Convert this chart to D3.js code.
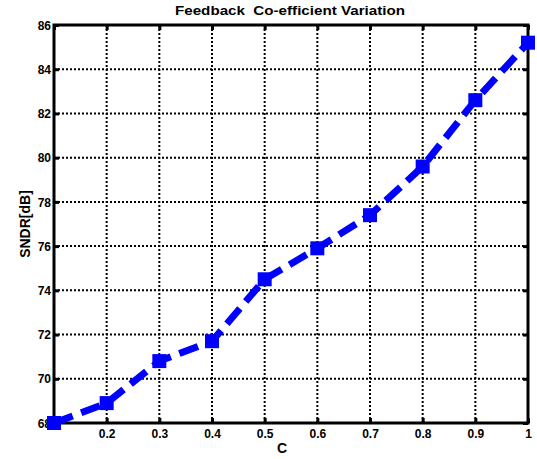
<!DOCTYPE html>
<html>
<head>
<meta charset="utf-8">
<script src="https://cdn.jsdelivr.net/npm/d3@7"></script>
<style>
  body { margin: 0; background: #fff; }
  text { font-family: "Liberation Sans", Arial, sans-serif; font-weight: bold; }
</style>
</head>
<body>
<script>
const cValues = [0.1, 0.2, 0.3, 0.4, 0.5, 0.6, 0.7, 0.8, 0.9, 1.0];
const sndr = [68.0, 68.9, 70.8, 71.7, 74.5, 75.9, 77.4, 79.6, 82.6, 85.2];
const xTicks = [0.1, 0.2, 0.3, 0.4, 0.5, 0.6, 0.7, 0.8, 0.9, 1];
const yTicks = [68, 70, 72, 74, 76, 78, 80, 82, 84, 86];

const width = 537, height = 459;
const margin = {top: 25, right: 9, bottom: 36, left: 54};
const w = width - margin.left - margin.right;
const h = height - margin.top - margin.bottom;

const svg = d3.select("body").append("svg")
  .attr("width", width)
  .attr("height", height);

const g = svg.append("g")
  .attr("transform", "translate(" + margin.left + "," + margin.top + ")");

const x = d3.scaleLinear().domain([0.1, 1]).range([0, w]);
const y = d3.scaleLinear().domain([68, 86]).range([h, 0]);

// grid
g.selectAll("line.vgrid")
  .data(xTicks.slice(1, -1))
  .enter()
  .append("line")
  .attr("x1", d => x(d)).attr("x2", d => x(d))
  .attr("y1", 0).attr("y2", h)
  .attr("stroke", "#000")
  .attr("stroke-width", 2)
  .attr("stroke-dasharray", "2,2");

g.selectAll("line.hgrid")
  .data(yTicks.slice(1, -1))
  .enter()
  .append("line")
  .attr("x1", 0).attr("x2", w)
  .attr("y1", d => y(d)).attr("y2", d => y(d))
  .attr("stroke", "#000")
  .attr("stroke-width", 2)
  .attr("stroke-dasharray", "2,2");

// axes
const xAxis = d3.axisBottom(x).tickValues(xTicks).tickSizeInner(-5).tickSizeOuter(0)
  .tickFormat(d => d === 0.1 ? "" : (d === 1 ? "1" : d3.format(".1f")(d)));
const yAxis = d3.axisLeft(y).tickValues(yTicks).tickSizeInner(-5).tickSizeOuter(0)
  .tickFormat(d3.format("d"));

const gx = g.append("g").attr("transform", "translate(0," + h + ")").call(xAxis);
const gy = g.append("g").call(yAxis);
g.append("g").call(d3.axisTop(x).tickValues(xTicks).tickSizeInner(-5).tickSizeOuter(0).tickFormat(""));
g.append("g").attr("transform", "translate(" + w + ",0)")
  .call(d3.axisRight(y).tickValues(yTicks).tickSizeInner(-5).tickSizeOuter(0).tickFormat(""));

g.selectAll(".domain").remove();
g.selectAll(".tick line").attr("stroke", "#000").attr("stroke-width", 3);
gx.selectAll("text").attr("font-size", 12).attr("y", 15).attr("dy", 0).attr("fill", "#000");
gy.selectAll("text").attr("font-size", 12).attr("x", -3).attr("dy", "0.35em").attr("fill", "#000");

g.append("rect")
  .attr("width", w).attr("height", h)
  .attr("fill", "none")
  .attr("stroke", "#000")
  .attr("stroke-width", 3);

// series
const line = d3.line()
  .x((d, i) => x(cValues[i]))
  .y(d => y(d));

g.append("path")
  .datum(sndr)
  .attr("d", line)
  .attr("fill", "none")
  .attr("stroke", "#0000ff")
  .attr("stroke-width", 7)
  .attr("stroke-dasharray", "20,9");

g.selectAll("rect.marker")
  .data(sndr)
  .enter()
  .append("rect")
  .attr("x", (d, i) => x(cValues[i]) - 7)
  .attr("y", d => y(d) - 7)
  .attr("width", 14)
  .attr("height", 14)
  .attr("fill", "#0000ff");

// labels
svg.append("text")
  .attr("x", 290)
  .attr("y", 15)
  .attr("text-anchor", "middle")
  .attr("font-size", 13)
  .attr("textLength", 230)
  .attr("lengthAdjust", "spacingAndGlyphs")
  .attr("xml:space", "preserve")
  .text("Feedback  Co-efficient Variation");

svg.append("text")
  .attr("x", 282)
  .attr("y", 453)
  .attr("text-anchor", "middle")
  .attr("font-size", 14)
  .text("C");

svg.append("text")
  .attr("transform", "translate(30," + (margin.top + h / 2) + ") rotate(-90)")
  .attr("text-anchor", "middle")
  .attr("font-size", 14)
  .text("SNDR[dB]");
</script>
</body>
</html>
